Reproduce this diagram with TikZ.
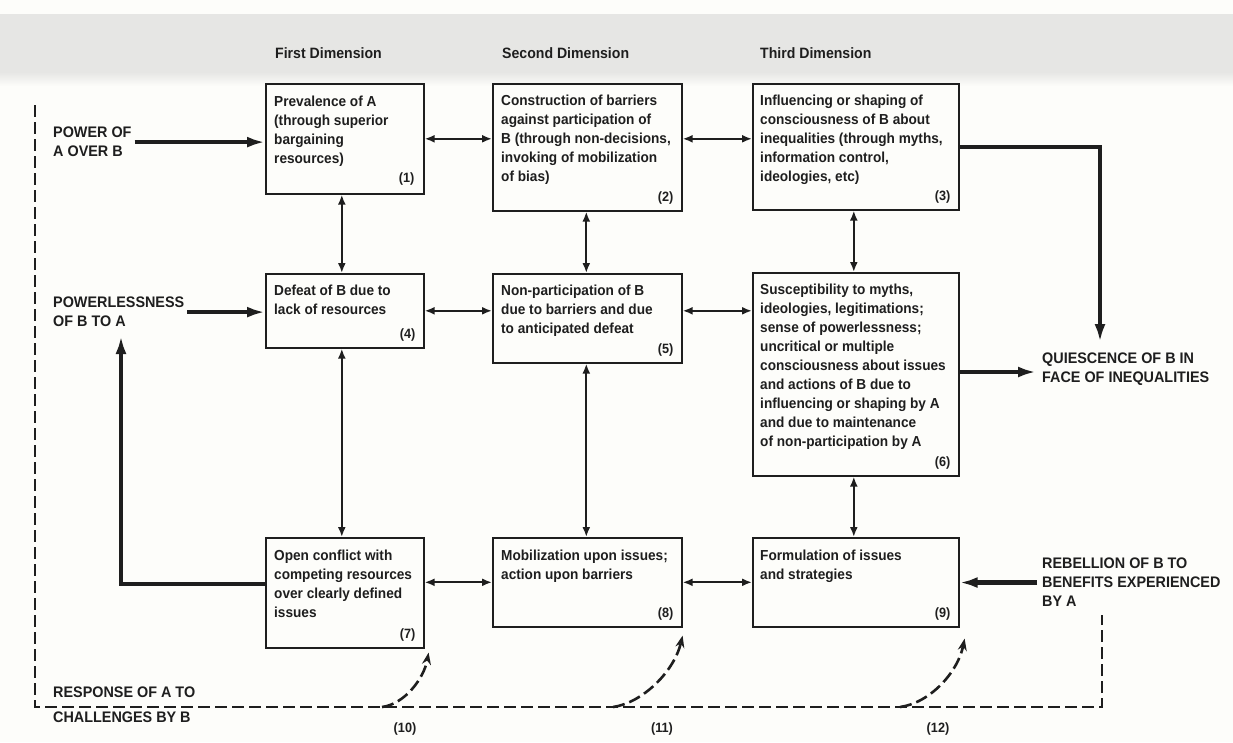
\documentclass[tikz,border=0pt]{standalone}
\usepackage{fontspec}
\setmainfont{Liberation Sans}[FakeStretch=0.94]
\usetikzlibrary{arrows.meta}
\definecolor{ink}{HTML}{1E1E1E}
\definecolor{paper}{HTML}{FDFDFA}
\definecolor{band}{HTML}{E6E6E4}
\begin{document}
\begin{tikzpicture}[x=1pt,y=-1pt,
  every node/.style={text=ink},
  box/.style={draw=ink, line width=1.6pt, rectangle, anchor=north west, inner sep=0pt},
  body/.style={anchor=north west, inner sep=0pt, align=left, font=\fontsize{14.5}{19}\selectfont\bfseries},
  num/.style={anchor=south east, inner sep=0pt, font=\fontsize{13.5}{15}\selectfont\bfseries},
  caps/.style={anchor=north west, inner sep=0pt, align=left, font=\fontsize{15.3}{19}\selectfont\bfseries},
  head/.style={anchor=north west, inner sep=0pt, font=\fontsize{15}{16}\selectfont\bfseries},
  tag/.style={anchor=north, inner sep=0pt, font=\fontsize{13.5}{15}\selectfont\bfseries},
  link/.style={draw=ink, line width=2pt, {Latex[length=10pt,width=8pt]}-{Latex[length=10pt,width=8pt]}},
  flow/.style={draw=ink, line width=4.2pt, -{Latex[length=18pt,width=11pt]}},
  border/.style={draw=ink, line width=2.6pt, dash pattern=on 12pt off 5pt},
  curvedarrow/.style={border, -{Stealth[length=12pt,width=9pt]}},
]
% page and the grey strip along the top
\fill[paper] (0,0) rectangle (1233,742);
\useasboundingbox (0,0) rectangle (1233,742);
\fill[band] (0,14) rectangle (1233,72);
\shade[top color=band, bottom color=paper] (0,72) rectangle (1233,86);

% column headings
\node[head] (h1) at (275,47) {First Dimension};
\node[head] (h2) at (502,47) {Second Dimension};
\node[head] (h3) at (760,47) {Third Dimension};

% the nine boxes
\node[box, minimum width=158pt, minimum height=110pt] (b1) at (265,83) {};
\node[box, minimum width=189pt, minimum height=127pt] (b2) at (492,83) {};
\node[box, minimum width=206pt, minimum height=126pt] (b3) at (752,83) {};
\node[box, minimum width=158pt, minimum height=74pt]  (b4) at (265,273) {};
\node[box, minimum width=189pt, minimum height=89pt]  (b5) at (492,273) {};
\node[box, minimum width=206pt, minimum height=203pt] (b6) at (752,272) {};
\node[box, minimum width=158pt, minimum height=110pt] (b7) at (265,537) {};
\node[box, minimum width=189pt, minimum height=89pt]  (b8) at (492,537) {};
\node[box, minimum width=206pt, minimum height=89pt]  (b9) at (752,537) {};

% box texts
\node[body] (t1) at ([xshift=9pt,yshift=-13pt]b1.north west)
  {Prevalence of A\\(through superior\\bargaining\\resources)};
\node[body] (t2) at ([xshift=9pt,yshift=-12pt]b2.north west)
  {Construction of barriers\\against participation of\\B (through non-decisions,\\invoking of mobilization\\of bias)};
\node[body] (t3) at ([xshift=8pt,yshift=-12pt]b3.north west)
  {Influencing or shaping of\\consciousness of B about\\inequalities (through myths,\\information control,\\ideologies, etc)};
\node[body] (t4) at ([xshift=9pt,yshift=-12pt]b4.north west)
  {Defeat of B due to\\lack of resources};
\node[body] (t5) at ([xshift=9pt,yshift=-12pt]b5.north west)
  {Non-participation of B\\due to barriers and due\\to anticipated defeat};
\node[body] (t6) at ([xshift=8pt,yshift=-12pt]b6.north west)
  {Susceptibility to myths,\\ideologies, legitimations;\\sense of powerlessness;\\uncritical or multiple\\consciousness about issues\\and actions of B due to\\influencing or shaping by A\\and due to maintenance\\of non-participation by A};
\node[body] (t7) at ([xshift=9pt,yshift=-13pt]b7.north west)
  {Open conflict with\\competing resources\\over clearly defined\\issues};
\node[body] (t8) at ([xshift=9pt,yshift=-13pt]b8.north west)
  {Mobilization upon issues;\\action upon barriers};
\node[body] (t9) at ([xshift=8pt,yshift=-13pt]b9.north west)
  {Formulation of issues\\and strategies};

% box numbers
\node[num] (n1) at ([xshift=-10pt,yshift=9pt]b1.south east) {(1)};
\node[num] (n2) at ([xshift=-9pt,yshift=7pt]b2.south east) {(2)};
\node[num] (n3) at ([xshift=-9pt,yshift=7pt]b3.south east) {(3)};
\node[num] (n4) at ([xshift=-9pt,yshift=7pt]b4.south east) {(4)};
\node[num] (n5) at ([xshift=-9pt,yshift=7pt]b5.south east) {(5)};
\node[num] (n6) at ([xshift=-9pt,yshift=7pt]b6.south east) {(6)};
\node[num] (n7) at ([xshift=-9pt,yshift=7pt]b7.south east) {(7)};
\node[num] (n8) at ([xshift=-9pt,yshift=7pt]b8.south east) {(8)};
\node[num] (n9) at ([xshift=-9pt,yshift=7pt]b9.south east) {(9)};

% outside labels
\node[caps] (pw)  at (53,127)   {POWER OF\\A OVER B};
\node[caps] (pl)  at (53,297)   {POWERLESSNESS\\OF B TO A};
\node[caps] (rs)  at (53,687)   {RESPONSE OF A TO\\[6pt]CHALLENGES BY B};
\node[caps] (qu)  at (1042,353) {QUIESCENCE OF B IN\\FACE OF INEQUALITIES};
\node[caps] (rb)  at (1042,558) {REBELLION OF B TO\\BENEFITS EXPERIENCED\\BY A};

% response numbers
\node[tag] (r10) at (405,723) {(10)};
\node[tag] (r11) at (662,723) {(11)};
\node[tag] (r12) at (938,723) {(12)};

% two-way links between neighbouring boxes
\draw[link] (b1.east) -- (b1.east -| b2.west);
\draw[link] (b1.east -| b2.east) -- (b1.east -| b3.west);
\draw[link] (b4.east) -- (b4.east -| b5.west);
\draw[link] (b4.east -| b5.east) -- (b4.east -| b6.west);
\draw[link] (b8.west -| b7.east) -- (b8.west);
\draw[link] (b8.east) -- (b8.east -| b9.west);
\draw[link] ([xshift=-3pt]b1.south) -- ([xshift=-3pt]b1.south |- b4.north);
\draw[link] ([xshift=-3pt]b4.south) -- ([xshift=-3pt]b4.south |- b7.north);
\draw[link] ([xshift=-1pt]b2.south) -- ([xshift=-1pt]b2.south |- b5.north);
\draw[link] ([xshift=-1pt]b5.south) -- ([xshift=-1pt]b5.south |- b8.north);
\draw[link] ([xshift=-2pt]b3.south) -- ([xshift=-2pt]b3.south |- b6.north);
\draw[link] ([xshift=-2pt]b6.south) -- ([xshift=-2pt]b6.south |- b9.north);

% heavy flows
\coordinate (qtop) at (1100,342);
\coordinate (fbtip) at (121,336);
\coordinate (qrow) at (0,372);
\draw[flow] ([xshift=3pt]pw.east) -- (pw.east -| b1.west);
\draw[flow] ([xshift=3pt]pl.east) -- (pl.east -| b4.west);
\draw[flow] (b3.east) -| (qtop);
\draw[flow] (b6.east |- qrow) -- ([xshift=-6pt]qu.west |- qrow);
\draw[flow] ([xshift=-5pt]rb.west) -- (rb.west -| b9.east);
\draw[flow] ([yshift=9pt]b7.west) -| (fbtip);

% dashed response loop
\coordinate (dtop) at (35,105);
\coordinate (dbl)  at (35,707);
\coordinate (dbr)  at (1102,707);
\coordinate (dtr)  at (1102,615);
\draw[border] (dtop) -- (dbl) -- (dbr) -- (dtr);

\coordinate (s10) at (382,707);
\coordinate (s11) at (613,707);
\coordinate (s12) at (900,707);
\draw[curvedarrow] (s10) .. controls (405,704) and (424,678) .. ([xshift=4pt,yshift=-4pt]b7.south east);
\draw[curvedarrow] (s11) .. controls (642,703) and (674,672) .. ([xshift=0pt,yshift=-8pt]b8.south east);
\draw[curvedarrow] (s12) .. controls (930,703) and (958,672) .. ([xshift=5pt,yshift=-11pt]b9.south east);
\end{tikzpicture}
\end{document}
